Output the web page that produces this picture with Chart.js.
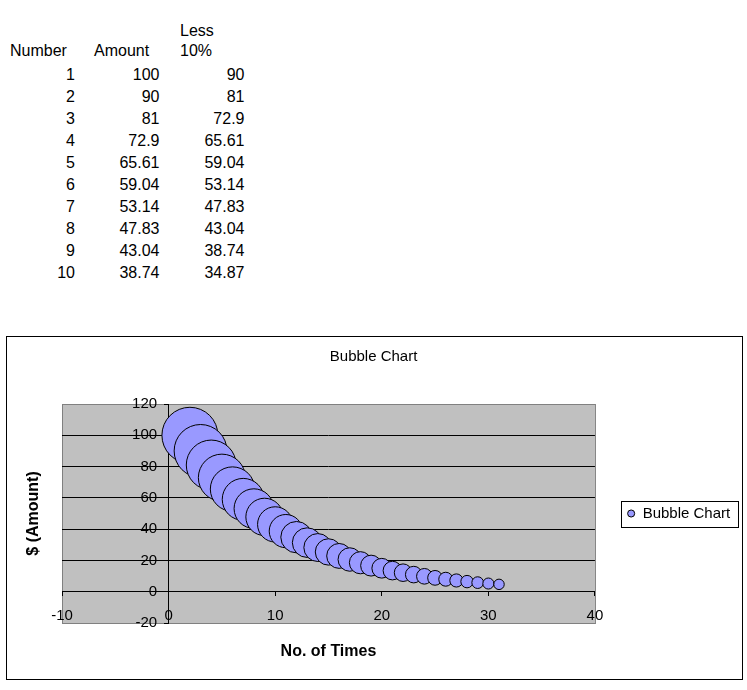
<!DOCTYPE html>
<html><head><meta charset="utf-8">
<script src="https://cdn.jsdelivr.net/npm/chart.js@4.4.1/dist/chart.umd.min.js"></script>
<style>
html,body{margin:0;padding:0;background:#fff;}
body{width:747px;height:690px;position:relative;overflow:hidden;font-family:"Liberation Sans",Arial,sans-serif;color:#000;}
.cell{position:absolute;font-size:16px;line-height:22px;white-space:nowrap;}
#box{position:absolute;left:6px;top:336px;width:737px;height:344px;border:1px solid #000;box-sizing:border-box;}
#box canvas{position:absolute;left:0;top:0;}
</style></head><body>
<div id="table"></div>
<div id="box"><canvas id="c" width="735" height="342"></canvas></div>
<script>
// ---- table data ----
const tableHeaders = ["Number", "Amount", ["Less", "10%"]];
const tableNumber = [1, 2, 3, 4, 5, 6, 7, 8, 9, 10];
const tableAmount = ["100", "90", "81", "72.9", "65.61", "59.04", "53.14", "47.83", "43.04", "38.74"];
const tableLess10 = ["90", "81", "72.9", "65.61", "59.04", "53.14", "47.83", "43.04", "38.74", "34.87"];

// ---- chart data ----
const chartTitle = "Bubble Chart";
const seriesName = "Bubble Chart";
const xAxisTitle = "No. of Times";
const yAxisTitle = "$ (Amount)";
const bubbleX = [2, 3, 4, 5, 6, 7, 8, 9, 10, 11, 12, 13, 14, 15, 16, 17, 18, 19, 20, 21, 22, 23, 24, 25, 26, 27, 28, 29, 30, 31];
const bubbleY = [100, 90, 81, 72.9, 65.61, 59.04, 53.14, 47.83, 43.04, 38.74, 34.87, 31.38, 28.24, 25.42, 22.88, 20.59, 18.53, 16.68, 15.01, 13.51, 12.16, 10.94, 9.85, 8.86, 7.98, 7.18, 6.46, 5.81, 5.23, 4.71];
const bubbleSize = [100, 90, 81, 72.9, 65.61, 59.04, 53.14, 47.83, 43.04, 38.74, 34.87, 31.38, 28.24, 25.42, 22.88, 20.59, 18.53, 16.68, 15.01, 13.51, 12.16, 10.94, 9.85, 8.86, 7.98, 7.18, 6.46, 5.81, 5.23, 4.71];
const xTickValues = [-10, 0, 10, 20, 30, 40];
const yTickValues = [-20, 0, 20, 40, 60, 80, 100, 120];

// ---- build the table ----
(function () {
  const host = document.getElementById('table');
  function add(text, opts) {
    const d = document.createElement('div');
    d.className = 'cell';
    d.textContent = text;
    d.style.top = opts.top + 'px';
    if (opts.left !== undefined) d.style.left = opts.left + 'px';
    if (opts.right !== undefined) d.style.right = (747 - opts.right) + 'px';
    host.appendChild(d);
  }
  const headLeft = [10, 94, 180];
  tableHeaders.forEach((h, i) => {
    if (Array.isArray(h)) {
      add(h[0], {left: headLeft[i], top: 20.4});
      add(h[1], {left: headLeft[i], top: 40.4});
    } else {
      add(h, {left: headLeft[i], top: 40.4});
    }
  });
  const colRight = [75, 159.5, 244.5];
  tableNumber.forEach((n, i) => {
    const top = 63.7 + 22.04 * i;
    add(String(n), {right: colRight[0], top});
    add(tableAmount[i], {right: colRight[1], top});
    add(tableLess10[i], {right: colRight[2], top});
  });
})();

// ---- chart ----
Chart.defaults.font.family = '"Liberation Sans", Arial, sans-serif';
Chart.defaults.color = '#000';

const maxSize = Math.max(...bubbleSize);
const maxRadius = 28;
const points = bubbleX.map((x, i) => ({x: x, y: bubbleY[i], size: bubbleSize[i]}));
const yLabelGap = 11.5;

const plotBg = {
  id: 'plotBg',
  beforeDraw(chart) {
    const {ctx, chartArea: a} = chart;
    ctx.save();
    ctx.fillStyle = '#C0C0C0';
    ctx.fillRect(a.left, a.top, a.right - a.left, a.bottom - a.top);
    ctx.strokeStyle = '#808080';
    ctx.lineWidth = 1;
    ctx.strokeRect(a.left + 0.5, a.top + 0.5, a.right - a.left, a.bottom - a.top);
    ctx.restore();
    // keep the y tick labels clear of the crossing axis line
    const ys = chart.scales.y;
    if (ys && !ys._labelsShifted) {
      const items = ys.getLabelItems(a);
      items.forEach(it => { it.options.translation[0] -= yLabelGap; });
      ys._labelsShifted = true;
    }
  }
};
const legendBox = {
  id: 'legendBox',
  afterDraw(chart) {
    const lg = chart.legend;
    if (!lg || !lg.legendHitBoxes || !lg.legendHitBoxes.length) return;
    const hb = lg.legendHitBoxes[0];
    const ctx = chart.ctx;
    const x0 = Math.round(hb.left - 6) + 0.5;
    const x1 = Math.round(hb.left + hb.width + 8) + 0.5;
    const yc = hb.top + hb.height / 2;
    const y0 = Math.round(yc - 13) + 0.5;
    const y1 = Math.round(yc + 13) + 0.5;
    ctx.save();
    ctx.strokeStyle = '#000';
    ctx.lineWidth = 1;
    ctx.strokeRect(x0, y0, x1 - x0, y1 - y0);
    ctx.restore();
  }
};

new Chart(document.getElementById('c'), {
  type: 'bubble',
  data: {
    datasets: [{
      label: seriesName,
      data: points,
      xAxisID: 'x',
      yAxisID: 'y',
      backgroundColor: '#9999FF',
      borderColor: '#000',
      borderWidth: 1,
      radius: (ctx) => {
        const p = ctx.raw;
        return p ? maxRadius * Math.pow(p.size / maxSize, 0.55) : 3;
      }
    }]
  },
  options: {
    responsive: false,
    animation: false,
    devicePixelRatio: 1,
    events: [],
    layout: {padding: {top: 0, left: 0, bottom: 0, right: 1.8}},
    plugins: {
      title: {
        display: true, text: chartTitle, color: '#000',
        font: {size: 15, weight: 'normal'},
        padding: {top: 11, bottom: 38}
      },
      legend: {
        display: true, position: 'right', fullSize: false, maxWidth: 300,
        labels: {
          usePointStyle: true, pointStyle: 'circle', boxWidth: 8, boxHeight: 5,
          padding: 32.2, color: '#000', font: {size: 15}
        }
      },
      tooltip: {enabled: false}
    },
    scales: {
      x: {
        type: 'linear', position: {y: 0},
        min: xTickValues[0], max: xTickValues[xTickValues.length - 1],
        ticks: {stepSize: 10, color: '#000', font: {size: 15}, padding: 11, maxRotation: 0, autoSkip: false},
        grid: {display: true, drawOnChartArea: false, drawTicks: true, tickLength: 4, color: '#000', tickColor: '#000'},
        border: {display: true, color: '#000', width: 1}
      },
      y: {
        type: 'linear', position: {x: 0},
        min: yTickValues[0], max: yTickValues[yTickValues.length - 1],
        ticks: {stepSize: 20, color: '#000', font: {size: 15}, padding: 7},
        grid: {
          display: true, drawOnChartArea: true, drawTicks: true, tickLength: 4,
          color: (c) => (c.tick && (c.tick.value === yTickValues[0] || c.tick.value === yTickValues[yTickValues.length - 1])) ? 'rgba(0,0,0,0)' : '#000',
          tickColor: '#000'
        },
        border: {display: true, color: '#000', width: 1}
      },
      xt: {
        type: 'linear', axis: 'x', position: 'bottom',
        min: xTickValues[0], max: xTickValues[xTickValues.length - 1],
        ticks: {display: false}, grid: {display: false, drawTicks: false}, border: {display: false},
        title: {display: true, text: xAxisTitle, color: '#000', font: {size: 16, weight: 'bold'}, padding: {top: 19.4, bottom: 17.4}}
      },
      yt: {
        type: 'linear', axis: 'y', position: 'left',
        min: yTickValues[0], max: yTickValues[yTickValues.length - 1],
        ticks: {display: false}, grid: {display: false, drawTicks: false}, border: {display: false},
        title: {display: true, text: yAxisTitle, color: '#000', font: {size: 16, weight: 'bold'}, padding: {top: 17.4, bottom: 18.4}}
      }
    }
  },
  plugins: [plotBg, legendBox]
});
</script>
</body></html>
